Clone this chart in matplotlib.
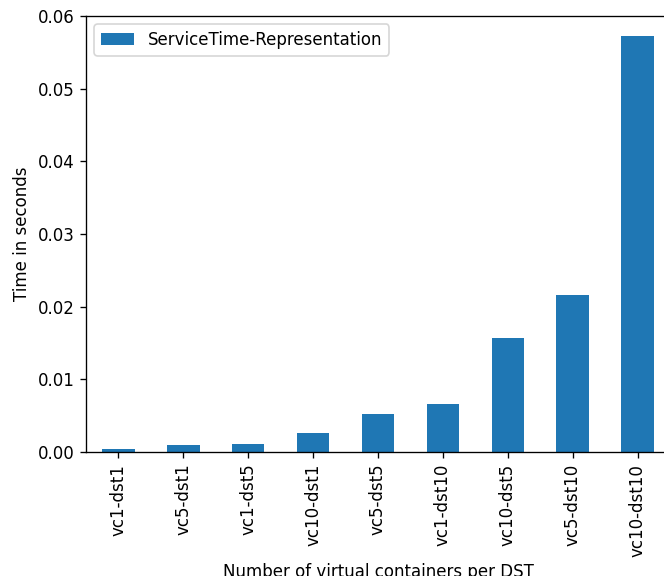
import matplotlib
matplotlib.use("Agg")
import matplotlib.pyplot as plt
import numpy as np

# mean service time per configuration (seconds)
configs = ["vc1-dst1", "vc5-dst1", "vc1-dst5", "vc10-dst1", "vc5-dst5",
           "vc1-dst10", "vc10-dst5", "vc5-dst10", "vc10-dst10"]
service_time = [0.0004, 0.00096, 0.0011, 0.0026, 0.0052,
                0.0066, 0.0157, 0.0216, 0.0573]

DPI = 120
fig = plt.figure(figsize=(664 / DPI, 576 / DPI), dpi=DPI)
ax = fig.add_axes([86 / 664, 124 / 576, 584 / 664, 436 / 576])

x = np.arange(len(configs))
ax.bar(x, service_time, width=0.5, color="#1f77b4", label="ServiceTime-Representation")
ax.set_xlim(-0.5, len(configs) - 0.5)
ax.set_ylim(0, 0.06)
ax.set_xticks(x)
ax.set_xticklabels(configs, rotation=90)
ax.set_xlabel("Number of virtual containers per DST")
ax.set_ylabel("Time in seconds")
ax.legend(loc="upper left")

fig.savefig("out.png", dpi=DPI)
